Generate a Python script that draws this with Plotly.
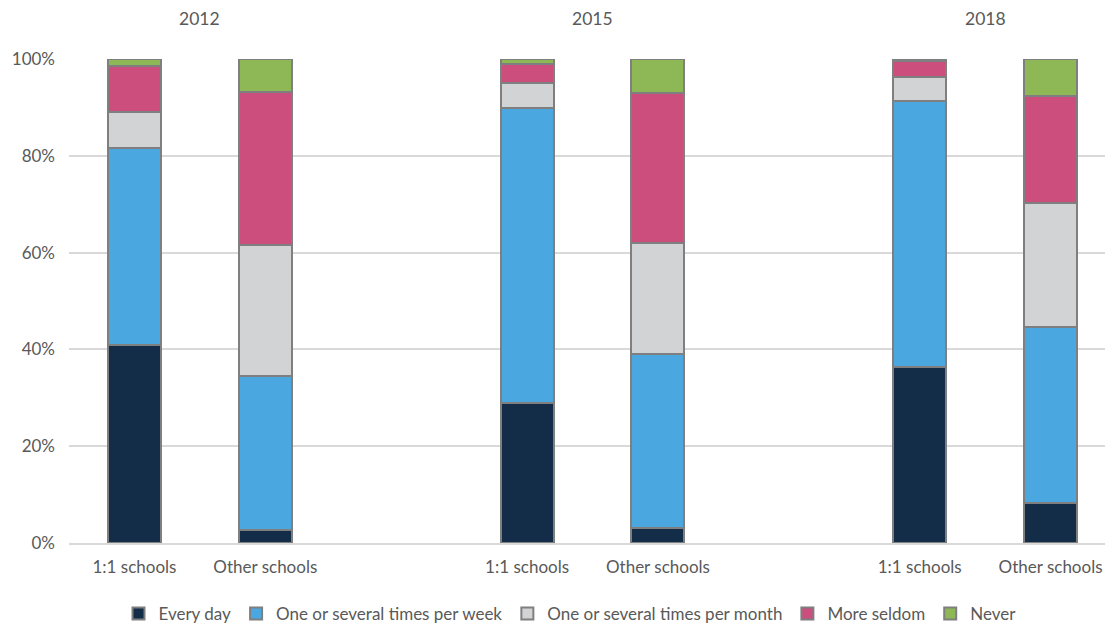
import plotly.graph_objects as go

years = ["2012", "2015", "2018"]
school_types = ["1:1 schools", "Other schools"]
series_names = ["Every day", "One or several times per week", "One or several times per month", "More seldom", "Never"]
colors = ["#132D48", "#4BA7E0", "#D2D3D5", "#CC4E7C", "#8EB856"]

# values in %, order: 2012 1:1, 2012 Other, 2015 1:1, 2015 Other, 2018 1:1, 2018 Other
every_day = [40.9, 2.7, 28.9, 3.1, 36.4, 8.3]
per_week = [40.7, 31.8, 61.0, 35.9, 54.9, 36.3]
per_month = [7.4, 27.1, 5.1, 23.0, 5.0, 25.6]
more_seldom = [9.6, 31.6, 4.0, 31.0, 3.3, 22.2]
never = [1.4, 6.8, 1.0, 7.0, 0.4, 7.6]

series_values = [every_day, per_week, per_month, more_seldom, never]

# positions: each year group has two bars followed by an empty slot
xpos = []
xlabels = []
for gi, y in enumerate(years):
    for si, s in enumerate(school_types):
        xpos.append(gi * 3 + si)
        xlabels.append(s)

font_family = "Lato, 'Open Sans', sans-serif"
text_color = "#595959"
fs = 17

W, H = 1108, 618  # page body has an 8px margin

fig = go.Figure()
for name, vals, col in zip(series_names, series_values, colors):
    fig.add_trace(go.Bar(
        x=xpos, y=[v / 100 for v in vals], name=name,
        marker=dict(color=col, line=dict(color="#7F7F7F", width=2)),
        width=0.405,
    ))

annotations = []
for gi, y in enumerate(years):
    annotations.append(dict(
        x=gi * 3 + 0.5, y=1.0, xref="x", yref="paper", yshift=41, yanchor="middle",
        text=y, showarrow=False, font=dict(size=17.5, color=text_color, family=font_family),
    ))

fig.update_layout(
    barmode="stack",
    width=W, height=H,
    margin=dict(l=61, r=0, t=51, b=83, autoexpand=False),
    plot_bgcolor="white", paper_bgcolor="white",
    font=dict(family=font_family, size=fs, color=text_color),
    xaxis=dict(
        tickmode="array", tickvals=xpos, ticktext=xlabels,
        range=[-0.5, 7.5], showgrid=False, zeroline=False,
        showline=True, linecolor="#D9D9D9", linewidth=1.5, ticks="",
        tickfont=dict(size=fs, color=text_color), automargin=False,
        ticklabelstandoff=8,
    ),
    yaxis=dict(
        range=[0, 1.0], tickformat=".0%", dtick=0.2,
        showgrid=True, gridcolor="#D9D9D9", gridwidth=1.5, zeroline=False,
        ticks="", tickfont=dict(size=fs, color=text_color), automargin=False,
        ticklabelstandoff=13,
    ),
    legend=dict(orientation="h", x=562 / W, xanchor="center", xref="container",
                y=1 - 606 / H, yanchor="middle", yref="container",
                font=dict(size=fs, color=text_color), traceorder="normal"),
    annotations=annotations,
)

fig.write_html("out.html")
